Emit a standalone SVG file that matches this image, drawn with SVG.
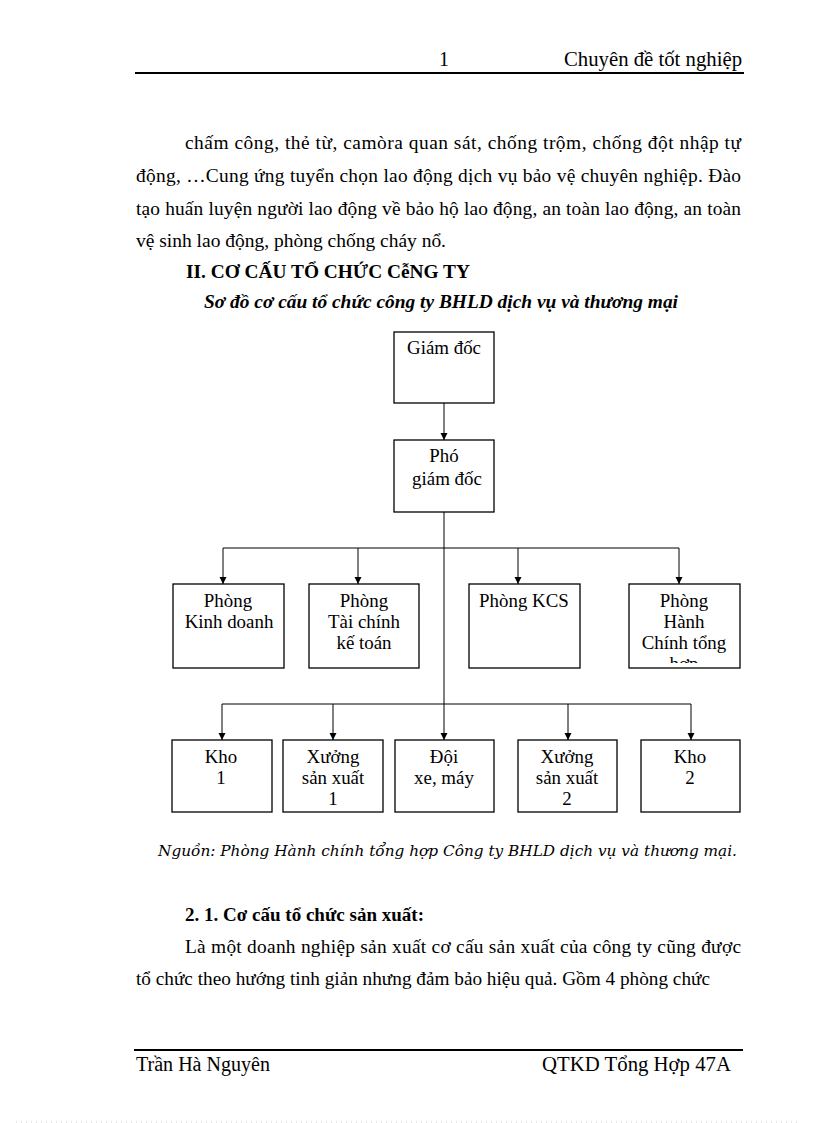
<svg xmlns="http://www.w3.org/2000/svg" width="816" height="1123" viewBox="0 0 816 1123">
<style>
text{font-family:"Liberation Serif","Times New Roman",serif;fill:#000;font-size:19.4px}
.n{font-size:18.9px}
.c{text-anchor:middle}
.b{font-weight:bold}
.bi{font-weight:bold;font-style:italic}
.hf{font-size:20px}
.src{font-family:"DejaVu Serif",serif;font-style:italic;font-size:15px}
.box{fill:#fff;stroke:#000;stroke-width:1.3}
.ln{fill:none;stroke:#000;stroke-width:1}
.rule{stroke:#000;stroke-width:2}
</style>
<defs>
<marker id="ah" markerWidth="8" markerHeight="8" refX="7" refY="4" orient="auto" markerUnits="userSpaceOnUse">
<path d="M0,0.5 L7,4 L0,7.5 Z" fill="#000"/>
</marker>
<clipPath id="clip4"><rect x="629" y="584" width="111" height="79"/></clipPath>
</defs>
<rect width="816" height="1123" fill="#fff"/>

<g id="header">
<text x="444" y="66" class="c hf">1</text>
<text x="564" y="66" class="hf" textLength="178" lengthAdjust="spacingAndGlyphs">Chuyên  đề tốt nghiệp</text>
<line x1="135" y1="73" x2="744" y2="73" class="rule"/>
</g>

<g id="body-top">
<text x="185" y="149" textLength="556" lengthAdjust="spacing">chấm công, thẻ từ, camòra quan sát, chống trộm, chống đột nhập tự</text>
<text x="136" y="182" textLength="605" lengthAdjust="spacing">động, …Cung ứng tuyển chọn lao động dịch vụ bảo vệ chuyên nghiệp. Đào</text>
<text x="136" y="215" textLength="605" lengthAdjust="spacing">tạo huấn luyện người lao động về bảo hộ lao động, an toàn lao động, an toàn</text>
<text x="136" y="247" textLength="310" lengthAdjust="spacingAndGlyphs">vệ sinh lao động, phòng chống cháy nổ.</text>
<text x="186" y="278" class="b" textLength="284" lengthAdjust="spacingAndGlyphs">II. CƠ CẤU TỔ CHỨC CễNG TY</text>
<text x="204" y="308" class="bi" textLength="474" lengthAdjust="spacingAndGlyphs">Sơ đồ cơ cấu tổ chức công ty BHLD dịch vụ và thương mại</text>
</g>

<g id="connectors">
<line x1="444" y1="403" x2="444" y2="440" class="ln" marker-end="url(#ah)"/>
<line x1="444" y1="512" x2="444" y2="740" class="ln" marker-end="url(#ah)"/>
<line x1="223" y1="548" x2="679" y2="548" class="ln"/>
<line x1="223" y1="548" x2="223" y2="584" class="ln" marker-end="url(#ah)"/>
<line x1="358" y1="548" x2="358" y2="584" class="ln" marker-end="url(#ah)"/>
<line x1="518" y1="548" x2="518" y2="584" class="ln" marker-end="url(#ah)"/>
<line x1="679" y1="548" x2="679" y2="584" class="ln" marker-end="url(#ah)"/>
<line x1="222" y1="704" x2="691" y2="704" class="ln"/>
<line x1="222" y1="704" x2="222" y2="740" class="ln" marker-end="url(#ah)"/>
<line x1="333" y1="704" x2="333" y2="740" class="ln" marker-end="url(#ah)"/>
<line x1="568" y1="704" x2="568" y2="740" class="ln" marker-end="url(#ah)"/>
<line x1="691" y1="704" x2="691" y2="740" class="ln" marker-end="url(#ah)"/>
</g>

<g id="giam-doc">
<rect x="394" y="332" width="100" height="71" class="box"/>
<text x="444" y="354" class="c n">Giám  đốc</text>
</g>
<g id="pho-giam-doc">
<rect x="394" y="440" width="100" height="72" class="box"/>
<text x="444" y="462" class="c n">Phó</text>
<text x="447" y="485" class="c n">giám  đốc</text>
</g>

<g id="phong-kinh-doanh">
<rect x="173" y="584" width="111" height="84" class="box"/>
<text x="228" y="607" class="c n">Phòng</text>
<text x="229" y="628" class="c n">Kinh  doanh</text>
</g>
<g id="phong-tai-chinh">
<rect x="309" y="584" width="110" height="84" class="box"/>
<text x="364" y="607" class="c n">Phòng</text>
<text x="364" y="628" class="c n">Tài chính</text>
<text x="364" y="649" class="c n">kế toán</text>
</g>
<g id="phong-kcs">
<rect x="469" y="584" width="111" height="84" class="box"/>
<text x="524" y="607" class="c n">Phòng KCS</text>
</g>
<g id="phong-hanh-chinh">
<rect x="629" y="584" width="111" height="84" class="box"/>
<g clip-path="url(#clip4)">
<text x="684" y="607" class="c n">Phòng</text>
<text x="684" y="628" class="c n">Hành</text>
<text x="684" y="649" class="c n">Chính tổng</text>
<text x="684" y="670" class="c n">hợp</text>
</g>
</g>

<g id="kho-1">
<rect x="172" y="740" width="100" height="72" class="box"/>
<text x="221" y="763" class="c n">Kho</text>
<text x="221" y="784" class="c n">1</text>
</g>
<g id="xuong-1">
<rect x="283" y="740" width="100" height="72" class="box"/>
<text x="333" y="763" class="c n">Xưởng</text>
<text x="333" y="784" class="c n">sản xuất</text>
<text x="333" y="805" class="c n">1</text>
</g>
<g id="doi-xe-may">
<rect x="395" y="740" width="99" height="72" class="box"/>
<text x="444" y="763" class="c n">Đội</text>
<text x="444" y="784" class="c n">xe, máy</text>
</g>
<g id="xuong-2">
<rect x="518" y="740" width="99" height="72" class="box"/>
<text x="567" y="763" class="c n">Xưởng</text>
<text x="567" y="784" class="c n">sản xuất</text>
<text x="567" y="805" class="c n">2</text>
</g>
<g id="kho-2">
<rect x="641" y="740" width="99" height="72" class="box"/>
<text x="690" y="763" class="c n">Kho</text>
<text x="690" y="784" class="c n">2</text>
</g>

<g id="body-bottom">
<text x="158" y="856" class="src" textLength="579" lengthAdjust="spacingAndGlyphs">Nguồn: Phòng Hành chính tổng hợp Công ty BHLD dịch vụ và thương mại.</text>
<text x="185" y="921" class="b" textLength="239" lengthAdjust="spacingAndGlyphs">2. 1. Cơ cấu tổ chức sản xuất:</text>
<text x="185" y="953" textLength="556" lengthAdjust="spacing">Là một doanh nghiệp sản xuất cơ cấu sản xuất của công ty cũng được</text>
<text x="136" y="985" textLength="574" lengthAdjust="spacingAndGlyphs">tổ chức theo hướng tinh giản nhưng đảm bảo hiệu quả. Gồm 4 phòng chức</text>
</g>

<g id="footer">
<line x1="134" y1="1050" x2="743" y2="1050" class="rule"/>
<text x="136" y="1071" class="hf" textLength="134" lengthAdjust="spacingAndGlyphs">Trần Hà Nguyên</text>
<text x="542" y="1071" class="hf" textLength="189" lengthAdjust="spacingAndGlyphs">QTKD Tổng Hợp 47A</text>
<line x1="16" y1="1122" x2="800" y2="1122" stroke="#ccc" stroke-width="1" stroke-dasharray="1,4"/>
</g>
</svg>
